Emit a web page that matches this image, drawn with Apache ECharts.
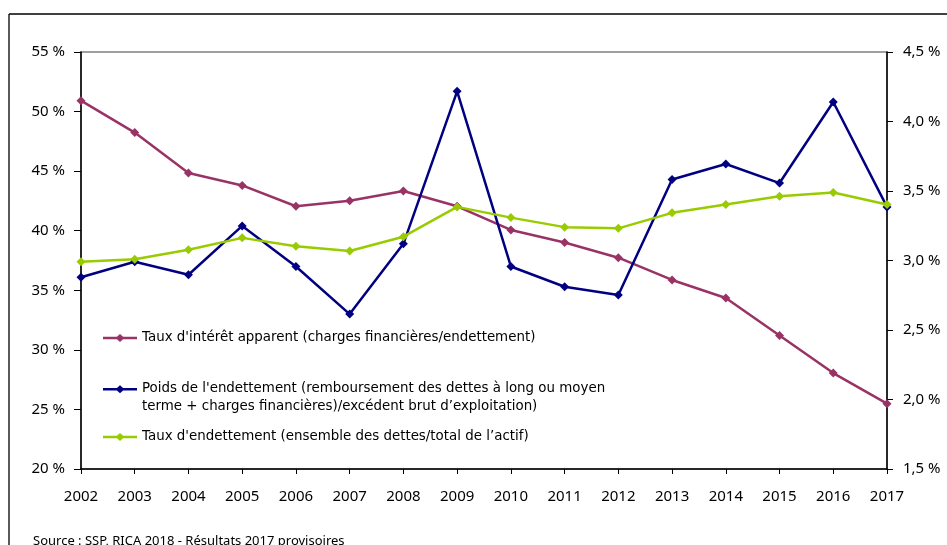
<!DOCTYPE html>
<html>
<head>
<meta charset="utf-8">
<script src="https://cdn.jsdelivr.net/npm/echarts@6/dist/echarts.min.js"></script>
<style>
  html, body { margin: 0; padding: 0; background: #fff; }
  #chart { width: 947px; height: 545px; }
</style>
</head>
<body>
<div id="chart"></div>
<script>
// années
const years = ['2002', '2003', '2004', '2005', '2006', '2007', '2008', '2009',
  '2010', '2011', '2012', '2013', '2014', '2015', '2016', '2017']

// axe de droite
const tauxInteret = [4.15, 3.92, 3.63, 3.54, 3.39, 3.43, 3.50, 3.39,
  3.22, 3.13, 3.02, 2.86, 2.73, 2.46, 2.19, 1.97]
// axe de gauche
const poidsEndettement = [36.1, 37.4, 36.3, 40.4, 37.0, 33.0, 38.9, 51.7,
  37.0, 35.3, 34.6, 44.3, 45.6, 44.0, 50.8, 42.0]
const tauxEndettement = [37.4, 37.6, 38.4, 39.4, 38.7, 38.3, 39.5, 42.0,
  41.1, 40.3, 40.2, 41.5, 42.2, 42.9, 43.2, 42.2]

const names = [
  "Taux d'intérêt apparent (charges financières/endettement)",
  "Poids de l'endettement (remboursement des dettes à long ou moyen\nterme + charges financières)/excédent brut d’exploitation)",
  "Taux d'endettement (ensemble des dettes/total de l’actif)"
]
const colors = ['#993366', '#000080', '#99cc00']

const axisFont = { fontFamily: 'Noto Sans', fontSize: 15, color: '#000' }
const legendFont = { fontFamily: 'DejaVu Sans', fontSize: 13.4, color: '#000', lineHeight: 18 }

// trait + losange ; la version haute place le losange sur la 1re ligne du texte
const iconLine = 'path://M0,3.3L34,3.3L34,5.7L0,5.7Z M17,0.5L21.5,4.5L17,8.5L12.5,4.5Z'
const iconHigh = 'path://M0,3.3L34,3.3L34,5.7L0,5.7Z M17,0.5L21.5,4.5L17,8.5L12.5,4.5Z M33.9,26L34,26L34,25.9Z'

function makeSeries (name, data, color, axis) {
  return {
    name: name,
    type: 'line',
    yAxisIndex: axis,
    data: data,
    symbol: 'diamond',
    symbolSize: 9,
    showAllSymbol: true,
    lineStyle: { color: color, width: 2.5 },
    itemStyle: { color: color },
    emphasis: { disabled: true }
  }
}

function makeLegend (name, top, icon, h) {
  return {
    data: [{ name: name, icon: icon }],
    left: 103,
    top: top,
    orient: 'vertical',
    itemWidth: 34,
    itemHeight: h,
    padding: 0,
    selectedMode: false,
    textStyle: legendFont
  }
}

const option = {
  animation: false,
  grid: {
    left: 81,
    right: 60,
    top: 52,
    bottom: 76,
    show: true,
    borderColor: '#808080',
    borderWidth: 1.5
  },
  legend: [
    makeLegend(names[0], 329, iconLine, 9),
    makeLegend(names[1], 380, iconHigh, 26),
    makeLegend(names[2], 428, iconLine, 9)
  ],
  xAxis: {
    type: 'category',
    data: years,
    boundaryGap: false,
    axisLine: { lineStyle: { color: '#000', width: 1.5 } },
    axisTick: { alignWithLabel: true, length: 5, lineStyle: { color: '#000' } },
    axisLabel: Object.assign({ margin: 20, interval: 0 }, axisFont)
  },
  yAxis: [
    {
      type: 'value',
      min: 20,
      max: 55,
      interval: 5,
      position: 'left',
      axisLine: { show: true, lineStyle: { color: '#000', width: 1.5 } },
      axisTick: { show: true, length: 7, lineStyle: { color: '#000' } },
      splitLine: { show: false },
      axisLabel: Object.assign({ margin: 16, formatter: '{value} %' }, axisFont)
    },
    {
      type: 'value',
      min: 1.5,
      max: 4.5,
      interval: 0.5,
      position: 'right',
      axisLine: { show: true, lineStyle: { color: '#000', width: 1.5 } },
      axisTick: { show: true, length: 6, lineStyle: { color: '#000' } },
      splitLine: { show: false },
      axisLabel: Object.assign({
        margin: 16,
        formatter: function (v) { return v.toFixed(1).replace('.', ',') + ' %' }
      }, axisFont)
    }
  ],
  series: [
    makeSeries(names[0], tauxInteret, colors[0], 1),
    makeSeries(names[1], poidsEndettement, colors[1], 0),
    makeSeries(names[2], tauxEndettement, colors[2], 0)
  ],
  graphic: [
    { type: 'line', shape: { x1: 9, y1: 14, x2: 947, y2: 14 }, style: { stroke: '#000', lineWidth: 1.3 } },
    { type: 'line', shape: { x1: 9, y1: 14, x2: 9, y2: 545 }, style: { stroke: '#000', lineWidth: 1.3 } },
    {
      type: 'text',
      left: 33,
      top: 535,
      style: {
        text: 'Source : SSP, RICA 2018 - Résultats 2017 provisoires',
        fontFamily: 'Noto Sans',
        fontSize: 13,
        fill: '#000'
      }
    }
  ]
}

const chart = echarts.init(document.getElementById('chart'))
chart.setOption(option)
</script>
</body>
</html>
